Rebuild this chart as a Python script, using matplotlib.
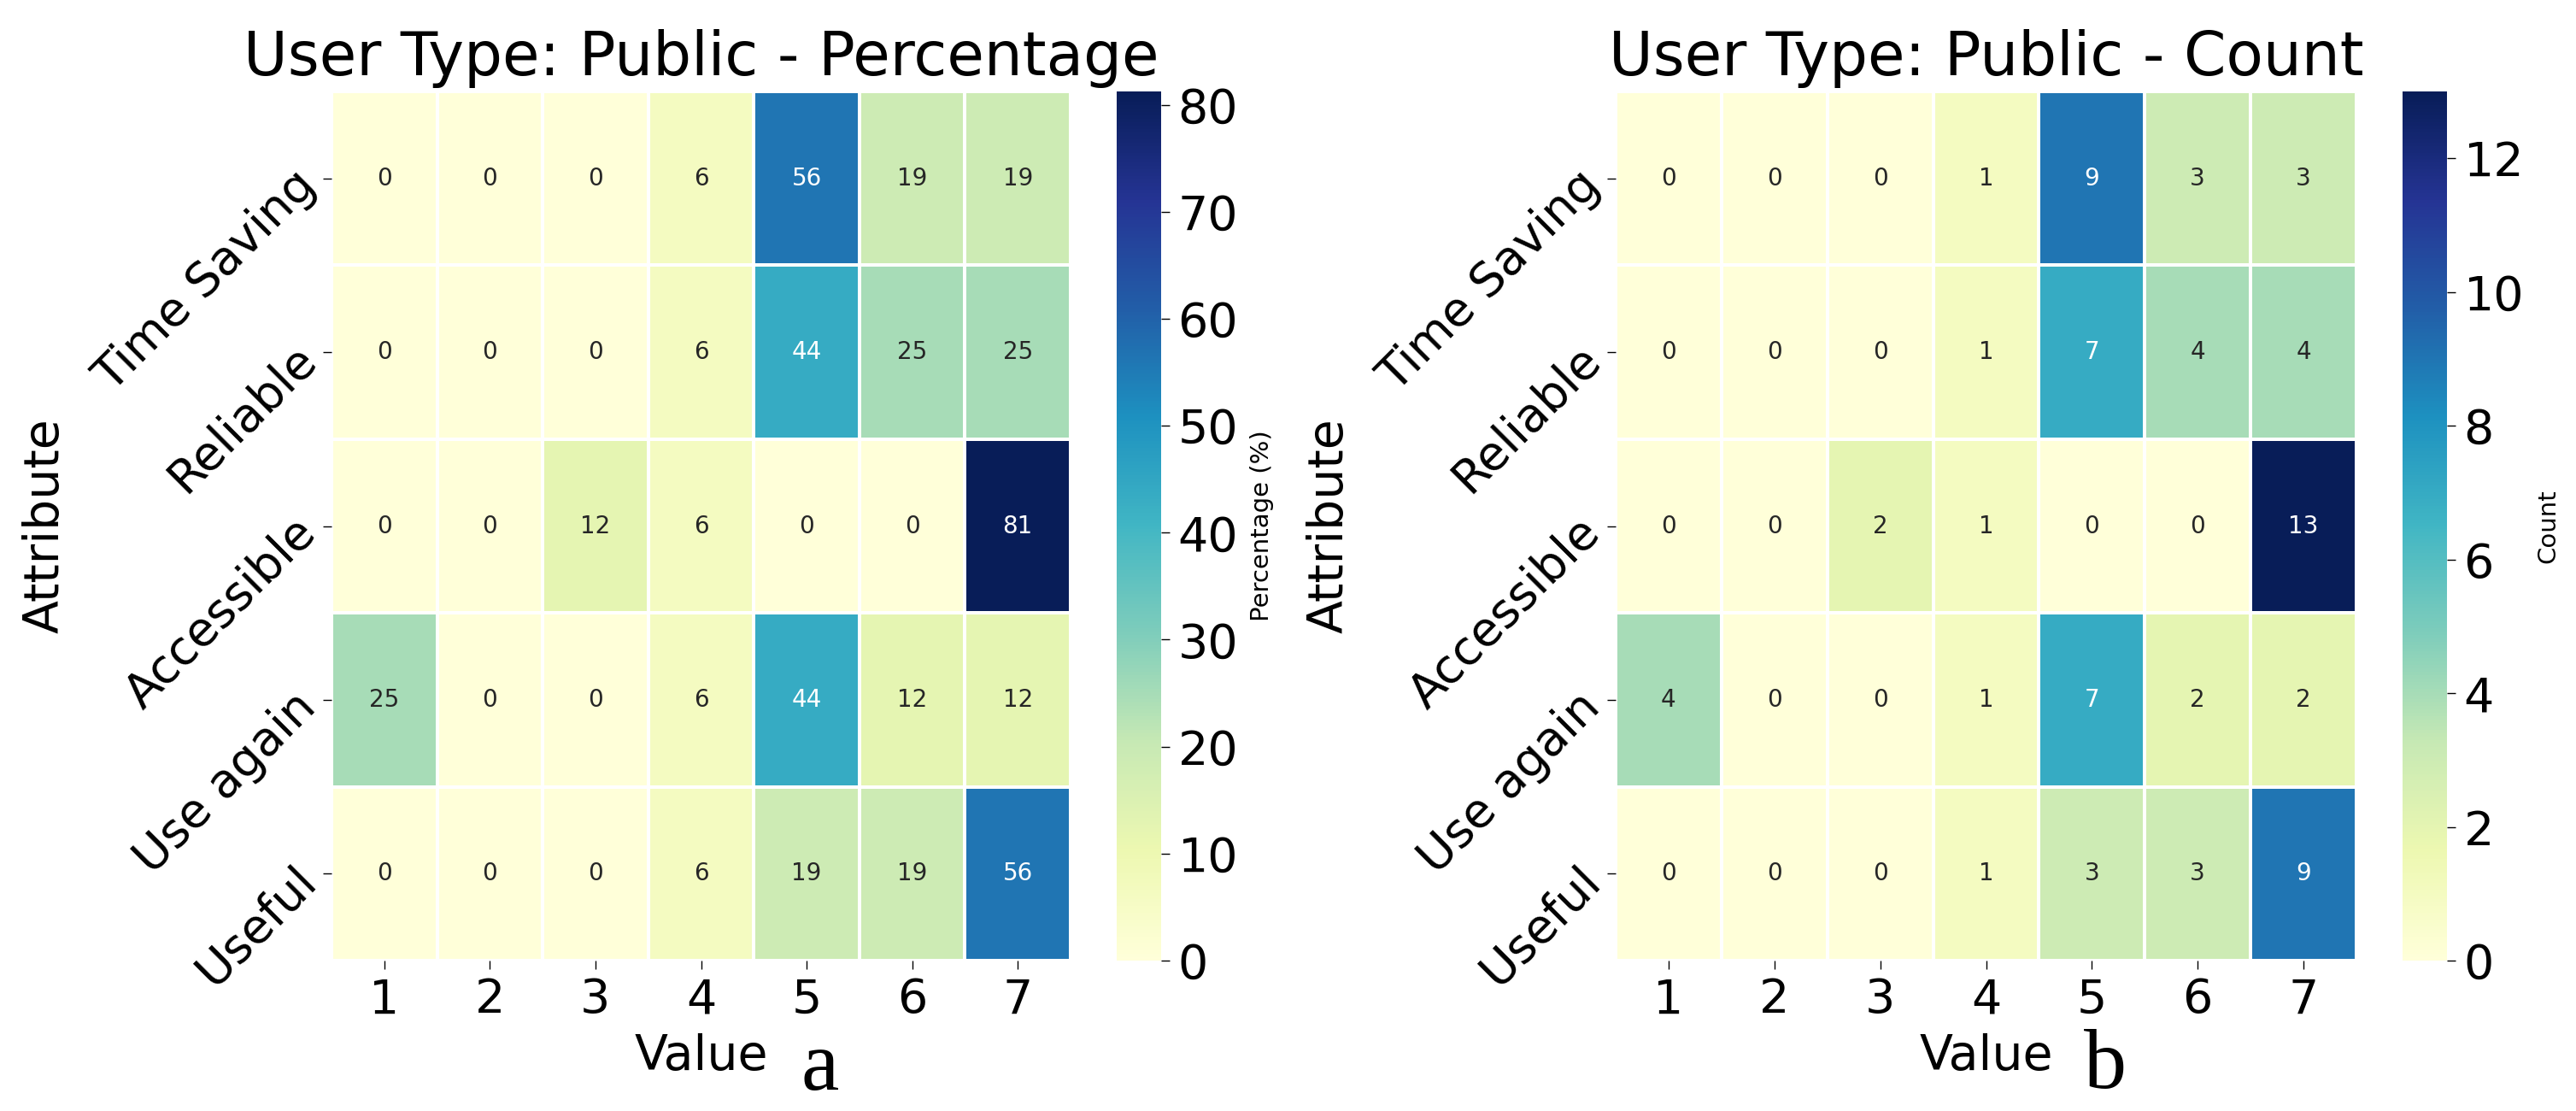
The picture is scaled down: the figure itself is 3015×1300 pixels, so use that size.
import numpy as np
import pandas as pd
import matplotlib
matplotlib.use("Agg")
import matplotlib.pyplot as plt
import seaborn as sns

attributes = ["Time Saving", "Reliable", "Accessible", "Use again", "Useful"]
values = [1, 2, 3, 4, 5, 6, 7]

pct_time_saving = [0, 0, 0, 6.25, 56.25, 18.75, 18.75]
pct_reliable    = [0, 0, 0, 6.25, 43.75, 25.0, 25.0]
pct_accessible  = [0, 0, 12.5, 6.25, 0, 0, 81.25]
pct_use_again   = [25.0, 0, 0, 6.25, 43.75, 12.5, 12.5]
pct_useful      = [0, 0, 0, 6.25, 18.75, 18.75, 56.25]

cnt_time_saving = [0, 0, 0, 1, 9, 3, 3]
cnt_reliable    = [0, 0, 0, 1, 7, 4, 4]
cnt_accessible  = [0, 0, 2, 1, 0, 0, 13]
cnt_use_again   = [4, 0, 0, 1, 7, 2, 2]
cnt_useful      = [0, 0, 0, 1, 3, 3, 9]

pct_ticks = [0, 10, 20, 30, 40, 50, 60, 70, 80]
cnt_ticks = [0, 2, 4, 6, 8, 10, 12]

pct_df = pd.DataFrame([pct_time_saving, pct_reliable, pct_accessible, pct_use_again, pct_useful],
                      index=attributes, columns=values)
cnt_df = pd.DataFrame([cnt_time_saving, cnt_reliable, cnt_accessible, cnt_use_again, cnt_useful],
                      index=attributes, columns=values)

W, H = 3015, 1300
fig = plt.figure(figsize=(W / 100, H / 100), dpi=100)

def fr(x0, y0, x1, y1):
    return [x0 / W, 1 - y1 / H, (x1 - x0) / W, (y1 - y0) / H]

ax1 = fig.add_axes(fr(388, 107, 1253, 1124))
cax1 = fig.add_axes(fr(1307, 107, 1359, 1124))
ax2 = fig.add_axes(fr(1891, 107, 2758, 1124))
cax2 = fig.add_axes(fr(2812, 107, 2864, 1124))

TICK = 40
LABEL = 41
TITLE = 51

def draw(ax, cax, df, fmt, title, cbl, ticks):
    sns.heatmap(df, ax=ax, cbar_ax=cax, annot=True, fmt=fmt, cmap="YlGnBu",
                linewidths=1.5, linecolor="white", annot_kws={"size": 20},
                cbar_kws={"label": cbl, "ticks": ticks})
    ax.set_title(title, fontsize=TITLE, pad=14)
    ax.set_xlabel("Value", fontsize=LABEL, labelpad=8)
    ax.set_ylabel("Attribute", fontsize=LABEL)
    ax.tick_params(axis="both", labelsize=TICK, length=7, width=1, pad=7)
    ax.set_xticklabels([str(v) for v in values], rotation=0)
    ax.set_yticklabels(attributes, rotation=45, ha="right", va="center",
                       rotation_mode="anchor")
    ax.tick_params(axis="y", pad=12)
    ax.yaxis.set_label_coords(-0.355, 0.5)
    cax.tick_params(labelsize=TICK, length=7, width=1, pad=7)
    cax.yaxis.label.set_size(21)
    cax.yaxis.labelpad = 10

draw(ax1, cax1, pct_df, ".0f", "User Type: Public - Percentage", "Percentage (%)", pct_ticks)
draw(ax2, cax2, cnt_df, "d", "User Type: Public - Count", "Count", cnt_ticks)

fig.text(960 / W, 1 - 1275 / H, "a", fontsize=72, family="Liberation Serif",
         ha="center", va="baseline")
fig.text(2464 / W, 1 - 1273 / H, "b", fontsize=72, family="Liberation Serif",
         ha="center", va="baseline")

fig.savefig("out.png", dpi=100)
